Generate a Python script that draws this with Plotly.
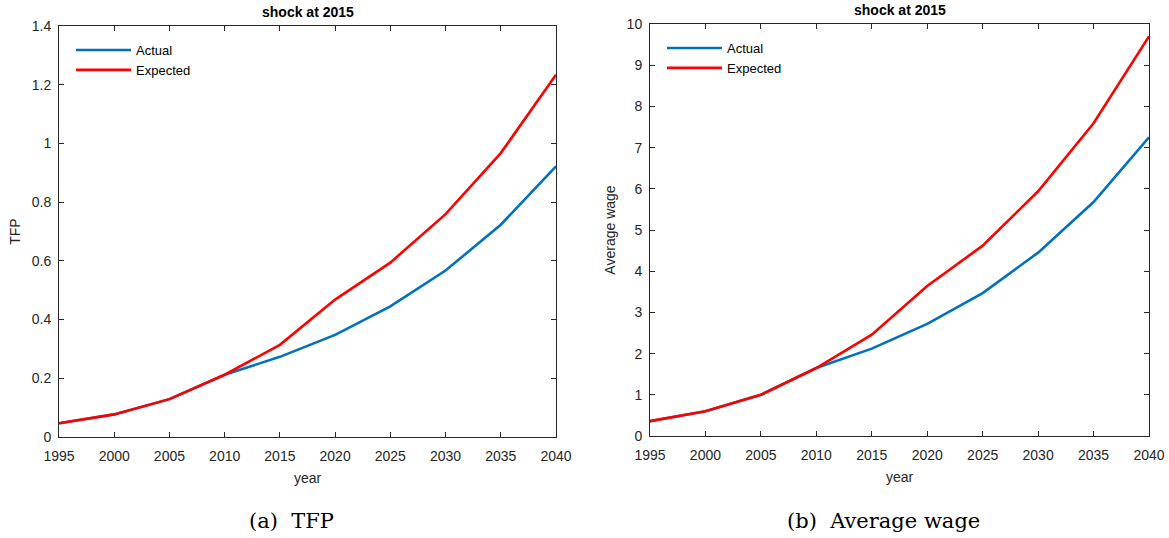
import plotly.graph_objects as go

# Simulation years and series
years = [1995, 2000, 2005, 2010, 2015, 2020, 2025, 2030, 2035, 2040]

tfp_actual = [0.047, 0.077, 0.129, 0.212, 0.273, 0.348, 0.445, 0.567, 0.723, 0.922]
tfp_expected = [0.047, 0.077, 0.129, 0.212, 0.314, 0.468, 0.594, 0.759, 0.967, 1.234]

wage_actual = [0.36, 0.60, 1.00, 1.65, 2.12, 2.72, 3.47, 4.45, 5.68, 7.25]
wage_expected = [0.36, 0.60, 1.00, 1.65, 2.46, 3.64, 4.62, 5.94, 7.59, 9.70]

year_ticks = [1995, 2000, 2005, 2010, 2015, 2020, 2025, 2030, 2035, 2040]
tfp_ticks = [0, 0.2, 0.4, 0.6, 0.8, 1, 1.2, 1.4]
wage_ticks = [0, 1, 2, 3, 4, 5, 6, 7, 8, 9, 10]

BLUE = "#0072BD"
RED = "#FF0000"
AX = "#262626"
SANS = "Liberation Sans, Arial, sans-serif"
SERIF = "DejaVu Serif, Liberation Serif, serif"

W, H = 1169, 538


def px_x(v):
    return v / W


def px_y(v):
    return 1 - v / H


fig = go.Figure()

panels = [
    ("x", "y", "legend", tfp_actual, tfp_expected),
    ("x2", "y2", "legend2", wage_actual, wage_expected),
]
for xa, ya, lg, act, exp in panels:
    fig.add_trace(go.Scatter(x=years, y=act, mode="lines", name="Actual",
                             line=dict(color=BLUE, width=2.6),
                             xaxis=xa, yaxis=ya, legend=lg))
    fig.add_trace(go.Scatter(x=years, y=exp, mode="lines", name="Expected",
                             line=dict(color=RED, width=2.6),
                             xaxis=xa, yaxis=ya, legend=lg))

axis_common = dict(
    showline=True, linecolor=AX, linewidth=1, mirror="ticks",
    ticks="inside", ticklen=5, tickwidth=1, tickcolor=AX,
    showgrid=False, zeroline=False, automargin=False,
    tickfont=dict(family=SANS, size=14, color=AX),
)
title_font = dict(family=SANS, size=14, color=AX)

fig.update_layout(
    width=W, height=H,
    margin=dict(l=0, r=0, t=0, b=0),
    paper_bgcolor="white", plot_bgcolor="white",
    showlegend=True,
    xaxis=dict(domain=[px_x(59), px_x(556)], range=[1995, 2040],
               tickvals=year_ticks, anchor="y", ticklabelstandoff=6,
               title=dict(text="year", font=title_font, standoff=10),
               **axis_common),
    yaxis=dict(domain=[px_y(437), px_y(26)], range=[0, 1.4],
               tickvals=tfp_ticks, anchor="x", ticklabelstandoff=4,
               title=dict(text="TFP", font=title_font, standoff=7),
               **axis_common),
    xaxis2=dict(domain=[px_x(650), px_x(1149)], range=[1995, 2040],
                tickvals=year_ticks, anchor="y2", ticklabelstandoff=6,
                title=dict(text="year", font=title_font, standoff=10),
                **axis_common),
    yaxis2=dict(domain=[px_y(436), px_y(24)], range=[0, 10],
                tickvals=wage_ticks, anchor="x2", ticklabelstandoff=4,
                title=dict(text="Average wage", font=title_font, standoff=7),
                **axis_common),
    legend=dict(x=px_x(71), y=px_y(35), xanchor="left", yanchor="top",
                bgcolor="rgba(0,0,0,0)", font=dict(family=SANS, size=13, color="black"),
                tracegroupgap=0, itemwidth=55),
    legend2=dict(x=px_x(662), y=px_y(33), xanchor="left", yanchor="top",
                 bgcolor="rgba(0,0,0,0)", font=dict(family=SANS, size=13, color="black"),
                 tracegroupgap=0, itemwidth=55),
)

# Panel titles
for cx, cy in [((59 + 556) / 2, 12), ((650 + 1149) / 2, 10)]:
    fig.add_annotation(x=px_x(cx), y=px_y(cy), xref="paper", yref="paper",
                       text="<b>shock at 2015</b>", showarrow=False,
                       font=dict(family=SANS, size=14, color="black"),
                       xanchor="center", yanchor="middle")

# Sub-figure captions
for cx, txt in [(291, "(a)\u00a0\u00a0TFP"), (883, "(b)\u00a0\u00a0Average wage")]:
    fig.add_annotation(x=px_x(cx), y=px_y(521), xref="paper", yref="paper",
                       text=txt, showarrow=False,
                       font=dict(family=SERIF, size=21, color="black"),
                       xanchor="center", yanchor="middle")

fig.write_html("out.html")
